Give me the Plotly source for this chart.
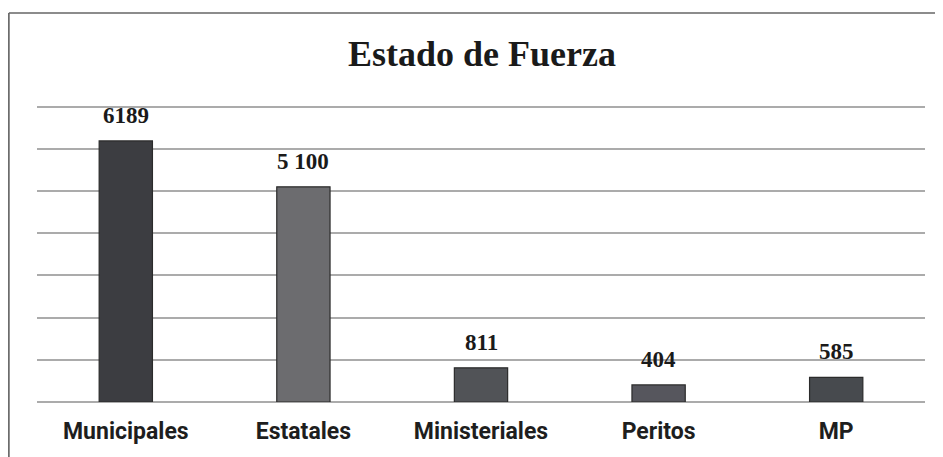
import plotly.graph_objects as go

categories = ["Municipales", "Estatales", "Ministeriales", "Peritos", "MP"]
values = [6189, 5100, 811, 404, 585]
value_labels = ["6189", "5 100", "811", "404", "585"]
bar_colors = ["#3c3d41", "#6c6c6f", "#515357", "#56565d", "#474a4e"]
tick_values = [0, 1000, 2000, 3000, 4000, 5000, 6000, 7000]

# page body adds an 8px margin, so work in a shifted frame
OFF = 8
W, H = 943 - OFF, 457 - OFF
YMAX = 7040
plot_left, plot_right = 37 - OFF, 925 - OFF
base_y = 402 - OFF
px_per_unit = (402 - 107) / 7000.0
top_y = base_y - YMAX * px_per_unit
L, R = plot_left, W - plot_right
T, B = int(round(top_y)), H - base_y

fig = go.Figure()
fig.add_trace(go.Bar(
    x=categories, y=values,
    marker=dict(color=bar_colors, line=dict(color="#2b2b2b", width=1.2)),
    hoverinfo="skip",
))

for c, v, t in zip(categories, values, value_labels):
    fig.add_annotation(x=c, y=v, text="<b>" + t + "</b>", showarrow=False,
                       yanchor="bottom", yshift=11,
                       font=dict(family="Liberation Serif", size=23, color="#1a1a1a"))

pw = W - L - R
ph = H - T - B
fig.add_annotation(xref="paper", yref="paper", x=(482 - OFF - L) / pw, y=(H - B - (54 - OFF)) / ph,
                   text="<b>Estado de Fuerza</b>", showarrow=False, xanchor="center", yanchor="middle",
                   font=dict(family="Liberation Serif", size=36, color="#1a1a1a"))

x0 = (8 - OFF - L) / pw + 0.001
ytop = (H - B - (13 - OFF)) / ph
fig.add_shape(type="line", xref="paper", yref="paper", x0=x0, x1=x0, y0=-0.3, y1=ytop,
              line=dict(color="#555555", width=1.5))
fig.add_shape(type="line", xref="paper", yref="paper", x0=x0, x1=(W - L + 2) / pw, y0=ytop, y1=ytop,
              line=dict(color="#666666", width=1.5))

fig.update_layout(
    width=W, height=H,
    margin=dict(l=L, r=R, t=T, b=B),
    paper_bgcolor="white", plot_bgcolor="white",
    bargap=0.7, showlegend=False,
)
fig.update_xaxes(showgrid=False, showline=False, ticks="",
                 tickfont=dict(family="Roboto", size=23, color="#1e1e1e", weight="bold"),
                 ticklabelstandoff=13, automargin=False)
fig.update_yaxes(range=[0, YMAX], tickvals=tick_values, showticklabels=False,
                 showgrid=True, gridcolor="#ababab", gridwidth=1.5,
                 zeroline=True, zerolinecolor="#ababab", zerolinewidth=1.5, automargin=False)

fig.write_html("out.html")
